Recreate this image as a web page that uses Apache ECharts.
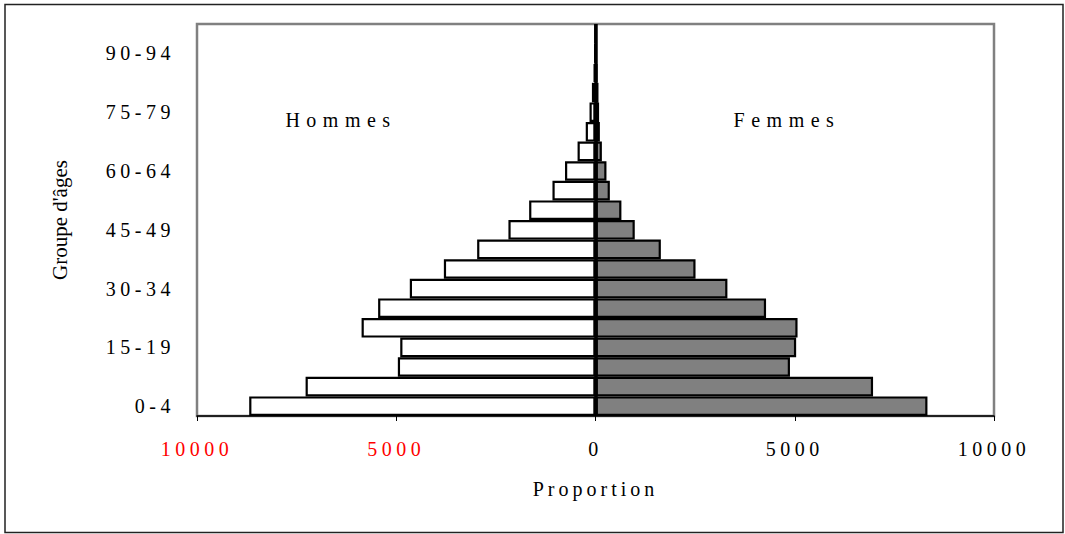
<!DOCTYPE html>
<html>
<head>
<meta charset="utf-8">
<script src="https://cdn.jsdelivr.net/npm/echarts@6/dist/echarts.min.js"></script>
<style>
html,body{margin:0;padding:0;background:#fff;}
#main{width:1065px;height:534px;}
</style>
</head>
<body>
<div id="main"></div>
<script>
// Age groups (bottom to top)
const ageGroups = ['0-4','5-9','10-14','15-19','20-24','25-29','30-34','35-39','40-44','45-49',
  '50-54','55-59','60-64','65-69','70-74','75-79','80-84','85-89','90-94','95-99'];
// Hommes (plotted to the left, negative values)
const hommes = [-8690,-7275,-4960,-4900,-5870,-5455,-4660,-3805,-2970,-2185,
  -1665,-1080,-765,-450,-245,-150,-90,-45,-20,-10];
// Femmes (plotted to the right)
const femmes = [8330,6965,4880,5035,5070,4280,3310,2510,1640,985,
  650,360,275,160,110,90,75,45,20,10];
// x-axis ticks
const xTicks = [-10000,-5000,0,5000,10000];

const FONT = 'Liberation Serif';
const chart = echarts.init(document.getElementById('main'), null, {renderer:'svg'});
chart.setOption({
  animation:false,
  backgroundColor:'#fff',
  grid:{left:197,right:71,top:24,bottom:118,show:true,borderColor:'#808080',borderWidth:2.5,backgroundColor:'transparent'},
  xAxis:{
    type:'value', min:xTicks[0], max:xTicks[xTicks.length-1], interval:5000,
    axisLine:{show:true,onZero:false,lineStyle:{color:'#000',width:1.5}},
    axisTick:{show:true,inside:false,length:5,lineStyle:{color:'#000',width:1}},
    splitLine:{show:false},
    axisLabel:{margin:23,fontFamily:FONT,fontSize:20,
      formatter:v=>String(Math.abs(v)),
      color:v=>(v<0?'#ff0000':'#000')},
    name:'Proportion', nameLocation:'middle', nameGap:63,
    nameTextStyle:{fontFamily:FONT,fontSize:20,color:'#000'}
  },
  yAxis:{
    type:'category', data:ageGroups,
    axisLine:{show:false,onZero:false},
    axisTick:{show:false},
    axisLabel:{interval:2,margin:22,fontFamily:FONT,fontSize:20,color:'#000'},
    name:"Groupe d'âges", nameLocation:'middle', nameGap:127, nameRotate:90,
    nameTextStyle:{fontFamily:FONT,fontSize:21,color:'#000'}
  },
  graphic:[
    {type:'rect',silent:true,z:-10,shape:{x:5,y:4.5,width:1058,height:528},style:{fill:'none',stroke:'#222',lineWidth:1.5}},
    {type:'text',x:341,y:120,style:{text:'Hommes',fontFamily:FONT,fontSize:20,fill:'#000',align:'center',verticalAlign:'middle'}},
    {type:'text',x:787,y:120,style:{text:'Femmes',fontFamily:FONT,fontSize:20,fill:'#000',align:'center',verticalAlign:'middle'}}
  ],
  series:[
    {name:'Hommes',type:'bar',stack:'pop',data:hommes,barCategoryGap:'0%',
      itemStyle:{color:'#fff',borderColor:'#000',borderWidth:2.2},
      markLine:{silent:true,symbol:'none',label:{show:false},
        lineStyle:{color:'#000',type:'solid',width:3.5},data:[{xAxis:0}]}},
    {name:'Femmes',type:'bar',stack:'pop',data:femmes,barCategoryGap:'0%',
      itemStyle:{color:'#808080',borderColor:'#000',borderWidth:2.2}}
  ]
});
function spacing(){
  document.querySelectorAll('#main text').forEach(t=>{
    const s=t.textContent;
    let ls='4.5px';
    if(s==="Groupe d'âges") ls='0px';
    else if(s==='Hommes'||s==='Femmes') ls='6.5px';
    else if(s==='Proportion') ls='4px';
    t.style.letterSpacing=ls;
  });
}
chart.on('finished',spacing);
setTimeout(spacing,30);
</script>
</body>
</html>
